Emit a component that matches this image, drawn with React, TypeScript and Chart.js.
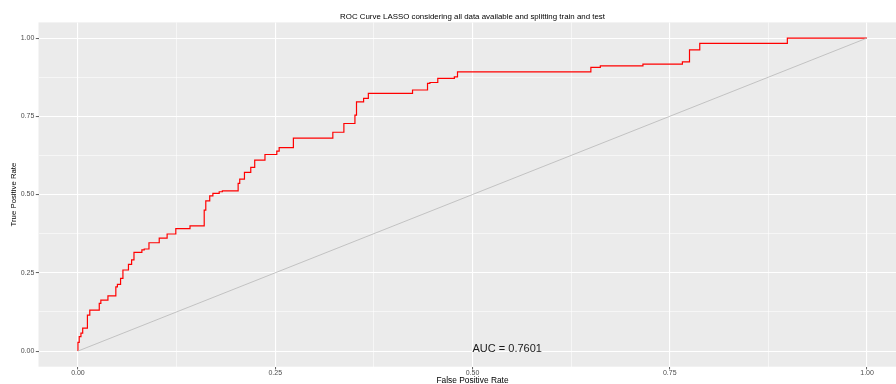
import React, { useEffect, useRef } from "react";
import { Chart, registerables } from "chart.js";

Chart.register(...registerables);

// ROC curve corner points (false positive rate, true positive rate)
const fpr = [
  0, 0, 0.0016, 0.0038, 0.006, 0.012, 0.015, 0.027, 0.029, 0.038, 0.048, 0.05,
  0.054, 0.057, 0.064, 0.068, 0.071, 0.081, 0.084, 0.09, 0.103, 0.113, 0.124,
  0.142, 0.16, 0.162, 0.167, 0.171, 0.179, 0.183, 0.203, 0.205, 0.211, 0.219,
  0.224, 0.237, 0.252, 0.255, 0.273, 0.323, 0.337, 0.351, 0.353, 0.362, 0.368,
  0.424, 0.443, 0.446, 0.456, 0.477, 0.481, 0.65, 0.662, 0.716, 0.766, 0.775,
  0.788, 0.899, 1,
];
const tpr = [
  0, 0.028, 0.046, 0.057, 0.073, 0.115, 0.131, 0.152, 0.163, 0.176, 0.205,
  0.213, 0.232, 0.259, 0.277, 0.291, 0.315, 0.323, 0.326, 0.346, 0.361, 0.374,
  0.391, 0.4, 0.45, 0.48, 0.496, 0.504, 0.509, 0.512, 0.536, 0.549, 0.571,
  0.587, 0.61, 0.628, 0.639, 0.65, 0.68, 0.699, 0.727, 0.754, 0.796, 0.807,
  0.823, 0.834, 0.855, 0.858, 0.871, 0.876, 0.892, 0.906, 0.911, 0.917, 0.924,
  0.962, 0.983, 1, 1,
];

const diagX = [0, 1];
const diagY = [0, 1];

const gridValues = [0, 0.125, 0.25, 0.375, 0.5, 0.625, 0.75, 0.875, 1];
const majorTicks = [0, 0.25, 0.5, 0.75, 1];
const tickLabels = ["0.00", "0.25", "0.50", "0.75", "1.00"];

const titleText =
  "ROC Curve LASSO considering all data available and splitting train and test";
const xTitle = "False Positive Rate";
const yTitle = "True Positive Rate";
const aucLabel = "AUC = 0.7601";
const aucX = 0.5;
const aucY = 0;

const FONT = '"Liberation Sans", Arial, Helvetica, sans-serif';

const majorIndex = (v: number) =>
  majorTicks.findIndex((m) => Math.abs(m - v) < 1e-9);

const panelBg = {
  id: "panelBg",
  beforeDraw(chart: any) {
    const { ctx, chartArea } = chart;
    ctx.save();
    ctx.fillStyle = "#FFFFFF";
    ctx.fillRect(0, 0, chart.width, chart.height);
    ctx.fillStyle = "#EBEBEB";
    ctx.fillRect(
      chartArea.left,
      chartArea.top,
      chartArea.right - chartArea.left,
      chartArea.bottom - chartArea.top
    );
    ctx.restore();
  },
};

const aucText = {
  id: "aucText",
  afterDatasetsDraw(chart: any) {
    const { ctx, scales } = chart;
    ctx.save();
    ctx.font = `11px ${FONT}`;
    ctx.fillStyle = "#1A1A1A";
    ctx.textAlign = "left";
    ctx.textBaseline = "middle";
    ctx.fillText(
      aucLabel,
      scales.x.getPixelForValue(aucX),
      scales.y.getPixelForValue(aucY) - 1.8
    );
    ctx.restore();
  },
};

const axisCommon = () => ({
  type: "linear" as const,
  min: -0.05,
  max: 1.05,
  afterBuildTicks: (scale: any) => {
    scale.ticks = gridValues.map((v) => ({ value: v }));
  },
  border: { display: false },
  grid: {
    color: "#FFFFFF",
    lineWidth: (c: any) => (c.tick && majorIndex(c.tick.value) >= 0 ? 1.1 : 0.55),
    tickColor: (c: any) =>
      c.tick && majorIndex(c.tick.value) >= 0 ? "#333333" : "rgba(0,0,0,0)",
    tickWidth: 0.8,
    tickLength: 2.7,
    drawTicks: true,
  },
  ticks: {
    autoSkip: false,
    maxRotation: 0,
    color: "#4D4D4D",
    font: { family: FONT, size: 7, lineHeight: 1 },
    callback: (value: any) => {
      const i = majorIndex(Number(value));
      return i >= 0 ? tickLabels[i] : "";
    },
  },
});

export default function App() {
  const ref = useRef<HTMLCanvasElement | null>(null);

  useEffect(() => {
    if (!ref.current) return;
    const xAxis: any = axisCommon();
    xAxis.position = "bottom";
    xAxis.ticks.padding = 0;
    xAxis.afterFit = (s: any) => {
      s.height = 17.3;
    };
    xAxis.title = {
      display: true,
      text: xTitle,
      color: "#000000",
      font: { family: FONT, size: 8.4, lineHeight: 0.8 },
      padding: { top: 0, bottom: 0 },
    };
    const yAxis: any = axisCommon();
    yAxis.position = "left";
    yAxis.ticks.padding = 1.5;
    yAxis.afterFit = (s: any) => {
      s.width = 38.5;
    };
    yAxis.title = {
      display: true,
      text: yTitle,
      color: "#000000",
      font: { family: FONT, size: 7.8, lineHeight: 1.2 },
      padding: { top: 9.3, bottom: 0 },
    };

    const chart = new Chart(ref.current, {
      type: "line",
      data: {
        datasets: [
          {
            label: "diagonal",
            data: diagX.map((x, i) => ({ x, y: diagY[i] })),
            borderColor: "#B8B8B8",
            borderWidth: 0.8,
            pointRadius: 0,
            fill: false,
          },
          {
            label: "ROC",
            data: fpr.map((x, i) => ({ x, y: tpr[i] })),
            borderColor: "#FF0000",
            borderWidth: 1.2,
            pointRadius: 0,
            stepped: "before",
            fill: false,
          },
        ],
      },
      options: {
        responsive: false,
        animation: false,
        layout: { padding: { left: 0, right: 3.5, top: 0, bottom: 0 } },
        plugins: {
          legend: { display: false },
          tooltip: { enabled: false },
          title: {
            display: true,
            text: titleText,
            color: "#000000",
            fullSize: false,
            font: { family: FONT, size: 7.9, weight: "normal", lineHeight: 1.2 },
            padding: { top: 11.76, bottom: 1.16 },
          },
        },
        scales: { x: xAxis, y: yAxis },
      },
      plugins: [panelBg, aucText],
    });
    return () => chart.destroy();
  }, []);

  return (
    <div
      style={{
        position: "fixed",
        left: 0,
        top: 0,
        width: 896,
        height: 384,
        overflow: "hidden",
        background: "#FFFFFF",
      }}
    >
      <canvas
        ref={ref}
        width={910}
        height={384}
        style={{ display: "block", width: 910, height: 384 }}
      />
    </div>
  );
}
